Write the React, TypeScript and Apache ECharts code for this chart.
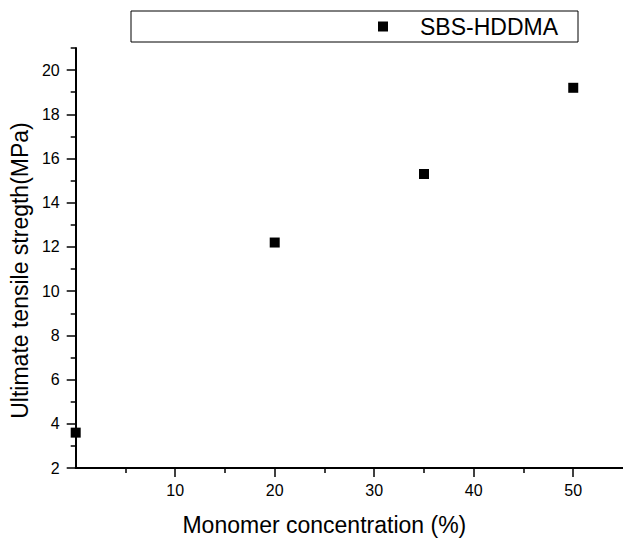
import React, { useEffect, useRef } from "react";
import * as echarts from "echarts";

const seriesName = "SBS-HDDMA";
const concentration = [0, 20, 35, 50];
const strength = [3.6, 12.2, 15.3, 19.2];
const xMajorTicks = [10, 20, 30, 40, 50];
const xMinorTicks = [5, 15, 25, 35, 45];
const yMajorTicks = [2, 4, 6, 8, 10, 12, 14, 16, 18, 20];
const yMinorTicks = [3, 5, 7, 9, 11, 13, 15, 17, 19, 21];
const xTitle = "Monomer concentration (%)";
const yTitle = "Ultimate tensile stregth(MPa)";
const xRange = [0, 55];
const yRange = [2, 21];

const FONT = "'Liberation Sans', Arial, sans-serif";

export default function App() {
  const ref = useRef<HTMLDivElement>(null);
  useEffect(() => {
    if (!ref.current) return;
    const chart = echarts.init(ref.current, undefined, { renderer: "svg" });
    const axisLineStyle = { color: "#000", width: 2 };
    chart.setOption({
      animation: false,
      backgroundColor: "#fff",
      textStyle: { fontFamily: FONT, color: "#000" },
      grid: { left: 75, top: 48, width: 550, height: 426.5, containLabel: false },
      legend: {
        data: [seriesName],
        left: 131,
        top: 11,
        icon: "rect",
        itemWidth: 10,
        itemHeight: 10,
        itemGap: 0,
        padding: [4, 20, 4, 247],
        borderColor: "#000",
        borderWidth: 1,
        textStyle: { fontSize: 23, color: "#000", fontFamily: FONT, padding: [0, 0, 0, 27] },
      },
      xAxis: [
        {
          type: "value",
          position: "bottom",
          min: xRange[0],
          max: xRange[1],
          name: xTitle,
          nameLocation: "middle",
          nameGap: 45,
          nameTextStyle: { fontSize: 23, color: "#000", fontFamily: FONT, padding: [0, 50, 0, 0] },
          axisLine: { show: true, onZero: false, lineStyle: axisLineStyle },
          axisTick: { show: true, customValues: xMajorTicks, length: 9, lineStyle: { color: "#000", width: 1.5 } },
          axisLabel: { customValues: xMajorTicks, fontSize: 16, color: "#000", margin: 14, fontFamily: FONT },
          splitLine: { show: false },
        },
        {
          type: "value",
          position: "bottom",
          min: xRange[0],
          max: xRange[1],
          axisLine: { show: false, onZero: false },
          axisTick: { show: true, customValues: xMinorTicks, length: 5, lineStyle: { color: "#000", width: 1.5 } },
          axisLabel: { show: false },
          splitLine: { show: false },
        },
      ],
      yAxis: [
        {
          type: "value",
          position: "left",
          min: yRange[0],
          max: yRange[1],
          name: yTitle,
          nameLocation: "middle",
          nameGap: 44,
          nameTextStyle: { fontSize: 23, color: "#000", fontFamily: FONT, padding: [0, 25, 0, 0] },
          axisLine: { show: true, onZero: false, lineStyle: axisLineStyle },
          axisTick: { show: true, customValues: yMajorTicks, length: 9, lineStyle: { color: "#000", width: 1.5 } },
          axisLabel: { customValues: yMajorTicks, fontSize: 16, color: "#000", margin: 16, fontFamily: FONT },
          splitLine: { show: false },
        },
        {
          type: "value",
          position: "left",
          min: yRange[0],
          max: yRange[1],
          axisLine: { show: false, onZero: false },
          axisTick: { show: true, customValues: yMinorTicks, length: 5, lineStyle: { color: "#000", width: 1.5 } },
          axisLabel: { show: false },
          splitLine: { show: false },
        },
      ],
      series: [
        {
          name: seriesName,
          type: "scatter",
          xAxisIndex: 0,
          yAxisIndex: 0,
          symbol: "rect",
          symbolSize: 10,
          itemStyle: { color: "#000", opacity: 1 },
          data: concentration.map((c, i) => [c, strength[i]]),
        },
      ],
    });
    return () => chart.dispose();
  }, []);
  return (
    <div
      ref={ref}
      style={{ position: "fixed", left: 0, top: 0, width: 623, height: 541, background: "#fff" }}
    />
  );
}
